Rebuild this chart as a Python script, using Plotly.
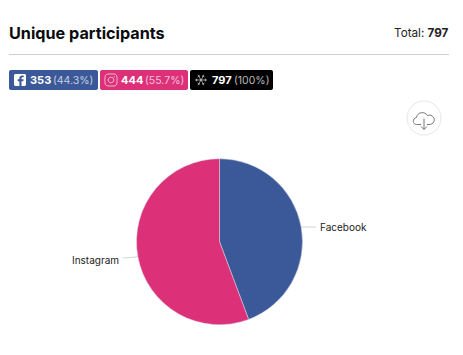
import math
import plotly.graph_objects as go

W, H = 463, 355
labels = ["Facebook", "Instagram"]
values = [353, 444]
shares = ["44.3%", "55.7%"]
total = 797
total_share = "100%"
colors = ["#3b5998", "#dc3078"]
FONT = "Inter, Roboto, sans-serif"

def px(x):
    return x / W

def py(y):
    return 1 - y / H

def P(cmds):
    out = []
    for c in cmds:
        if isinstance(c, str):
            out.append(c)
        else:
            out.append(f"{px(c[0]):.5f},{py(c[1]):.5f}")
    return " ".join(out)

def rrect(x0, y0, x1, y1, r):
    k = r * 0.45
    return P(["M", (x0 + r, y0), "L", (x1 - r, y0), "C", (x1 - k, y0), (x1, y0 + k), (x1, y0 + r),
              "L", (x1, y1 - r), "C", (x1, y1 - k), (x1 - k, y1), (x1 - r, y1),
              "L", (x0 + r, y1), "C", (x0 + k, y1), (x0, y1 - k), (x0, y1 - r),
              "L", (x0, y0 + r), "C", (x0, y0 + k), (x0 + k, y0), (x0 + r, y0), "Z"])

def circle(cx, cy, r):
    return rrect(cx - r, cy - r, cx + r, cy + r, r)

CX, CY, R = 219.5, 241.7, 83
fig = go.Figure(go.Pie(
    labels=labels, values=values, sort=False, direction="clockwise", rotation=0,
    marker=dict(colors=colors, line=dict(color="#d9d9e8", width=0.5)),
    textinfo="none", hoverinfo="label+value+percent", showlegend=False,
    domain=dict(x=[px(CX - R), px(CX + R)], y=[py(CY + R), py(CY - R)]),
))

shapes, ann = [], []

def text(x, y, s, size=12, color="#000", anchor="left"):
    ann.append(dict(x=px(x), y=py(y), xref="paper", yref="paper", text=s, showarrow=False,
                    xanchor=anchor, yanchor="middle", borderpad=0, borderwidth=0,
                    font=dict(family=FONT, size=size, color=color)))

def fill(path, color, line=None, lw=1):
    shapes.append(dict(type="path", xref="paper", yref="paper", path=path, fillcolor=color,
                       line=dict(color=line or color, width=lw if line else 0)))

def stroke(path, color, lw=1):
    shapes.append(dict(type="path", xref="paper", yref="paper", path=path,
                       fillcolor="rgba(0,0,0,0)", line=dict(color=color, width=lw)))

# header
text(9, 33, "<b>Unique participants</b>", 16.2, "#0b0b0f")
text(449, 33, f"Total: <b>{total}</b>", 11.7, "#222", "right")
stroke(P(["M", (9, 54.5), "L", (449, 54.5)]), "#cfcfcf", 1)

# chips
chip_y0, chip_y1 = 70, 90
fill(rrect(9, chip_y0, 98, chip_y1, 2), colors[0])
fill(rrect(100, chip_y0, 188, chip_y1, 2), colors[1])
fill(rrect(190, chip_y0, 273, chip_y1, 2), "#000000")
LIGHT = "rgba(255,255,255,0.72)"
CHIP_SIZE = 11
PCT_SIZE = 10.5
text(30, 80.3, f"<b>{values[0]}</b>", CHIP_SIZE, "#fff")
text(53, 80.3, f"({shares[0]})", PCT_SIZE, LIGHT)
text(121, 80.3, f"<b>{values[1]}</b>", CHIP_SIZE, "#fff")
text(145, 80.3, f"({shares[1]})", PCT_SIZE, LIGHT)
text(212, 80.3, f"<b>{total}</b>", CHIP_SIZE, "#fff")
text(234, 80.3, f"({total_share})", PCT_SIZE, LIGHT)

# facebook icon
fill(rrect(14, 74, 26, 86, 1.5), "#ffffff")
fill(P(["M", (21.5, 86), "L", (21.5, 81.3), "L", (23.3, 81.3), "L", (23.6, 79.3), "L", (21.5, 79.3),
        "L", (21.5, 78.2), "C", (21.5, 77.5), (21.9, 77.2), (22.5, 77.2), "L", (23.7, 77.2),
        "L", (23.7, 75.4), "L", (22.2, 75.4), "C", (20.4, 75.4), (19.4, 76.5), (19.4, 78), "L", (19.4, 79.3),
        "L", (17.7, 79.3), "L", (17.7, 81.3), "L", (19.4, 81.3), "L", (19.4, 86), "Z"]), colors[0])

# instagram icon
stroke(rrect(105, 74, 117, 86, 3), "rgba(255,255,255,0.8)", 0.8)
stroke(circle(111, 80, 2.8), "rgba(255,255,255,0.8)", 0.8)
fill(circle(114.2, 76.8, 0.6), "rgba(255,255,255,0.8)")

# all icon
ic = (201, 80)
for a in (30, 90, 150):
    t = math.radians(a)
    dx, dy = 6 * math.sin(t), 6 * math.cos(t)
    stroke(P(["M", (ic[0] - dx, ic[1] - dy), "L", (ic[0] + dx, ic[1] + dy)]), "rgba(255,255,255,0.75)", 0.8)
    for s in (-1, 1):
        ex, ey = ic[0] + s * dx * 0.72, ic[1] + s * dy * 0.72
        nx, ny = dy * 0.22, -dx * 0.22
        stroke(P(["M", (ex + nx, ey + ny), "L", (ex - nx, ey - ny)]), "rgba(255,255,255,0.75)", 0.8)

# download button
stroke(circle(424, 118, 17), "#e6e6e6", 1)
stroke(P(["M", (421, 124.5), "L", (416.5, 124.5), "C", (412.5, 124.5), (412, 118.5), (416.5, 117.5),
          "C", (417, 112), (425, 111), (427.5, 115.5), "C", (432, 113.5), (436.5, 119), (433, 123),
          "C", (432, 124.5), (430, 124.5), (427, 124.5)]), "#777777", 1)
stroke(P(["M", (424, 118.5), "L", (424, 129.5), "M", (421, 126.5), "L", (424, 129.5), "L", (427, 126.5)]), "#777777", 1)

# slice labels and leaders, anchored to each slice's mid angle
label_dy = {"Facebook": 0.4, "Instagram": 3.5}
cum = 0
tot = sum(values)
for lab, val in zip(labels, values):
    a = 2 * math.pi * (cum + val / 2) / tot
    cum += val
    sx, sy = math.sin(a), -math.cos(a)
    x0, y0 = CX + R * sx, CY + R * sy
    side = 1 if sx > 0 else -1
    x2 = x0 + side * 15
    ym = y0 + label_dy[lab] * 0.4
    stroke(P(["M", (x0, y0), "Q", (x0 + side * 6, ym), (x2, ym)]), "#c9c9c9", 0.8)
    text(x2 + side * 4, y0 + label_dy[lab], lab, 10, "#222", "left" if side > 0 else "right")

fig.update_layout(width=W, height=H, margin=dict(l=0, r=0, t=0, b=0), paper_bgcolor="white",
                  shapes=shapes, annotations=ann, showlegend=False)
fig.write_html("out.html", config=dict(displayModeBar=False),
               post_script="document.body.style.margin='0';document.body.style.overflow='hidden';")
